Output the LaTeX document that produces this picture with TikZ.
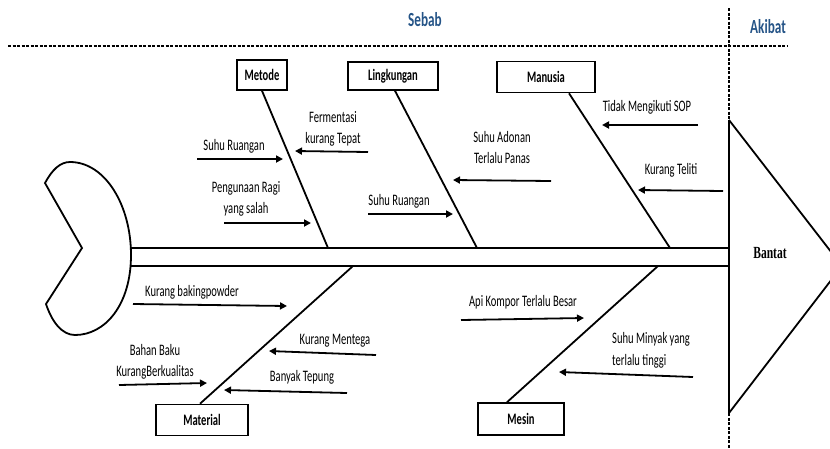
\documentclass[tikz,border=0pt]{standalone}
\usepackage{fontspec}
\newfontfamily\lblfont{Carlito}[FakeStretch=0.66]
\newfontfamily\serffont{Liberation Serif}[FakeStretch=0.68]
\usetikzlibrary{arrows.meta}
\definecolor{hdrblue}{RGB}{37,84,135}
\begin{document}
\begin{tikzpicture}[x=1pt,y=-1pt,
  lbl/.style={font=\lblfont\fontsize{16}{21.5}\selectfont, inner sep=0pt, align=center},
  catbox/.style={draw, line width=1.6pt, font=\lblfont\bfseries\fontsize{16}{18}\selectfont, inner sep=0pt},
  bone/.style={line width=1.8pt},
  cause/.style={line width=1.8pt, -{Triangle[length=7pt,width=7pt]}},
  sepline/.style={line width=1.4pt, dash pattern=on 3pt off 1.5pt},
  hdr/.style={font=\lblfont\bfseries\fontsize{20}{22}\selectfont, text=hdrblue, inner sep=0pt}
]
\useasboundingbox (0,0) rectangle (830,448);
\clip (0,0) rectangle (830,448);

% headers and separators
\node[hdr] (sebab) at (425,20) {Sebab};
\node[hdr] (akibat) at (768,27) {Akibat};
\draw[sepline] (8,46) -- (787,46);

% head (effect)
\draw[line width=1.8pt] (729,120) -- (842,266) -- (729,413);
\draw[line width=2pt] (729,120) -- (729,413);
\draw[sepline] (729,8) -- (729,448);
\node[font=\serffont\bfseries\fontsize{17}{20}\selectfont, inner sep=0pt] (bantat) at (770,253) {Bantat};

% tail
\draw[line width=1.8pt] (45,183) .. controls (52,170) and (60,162) .. (70,162)
  .. controls (105,162) and (131,205) .. (131,255)
  .. controls (131,305) and (105,335) .. (75,335)
  .. controls (62,335) and (52,322) .. (46,304) -- (82,248) -- cycle;

% spine
\draw[line width=2.2pt] (131,248) -- (729,248);
\draw[line width=2.2pt] (131,266) -- (729,266);

% category boxes
\node[catbox, minimum width=50pt, minimum height=30pt] (metode) at (262,75) {Metode};
\node[catbox, minimum width=90pt, minimum height=28pt] (lingk) at (393,76) {Lingkungan};
\node[catbox, minimum width=98pt, minimum height=31pt] (manusia) at (546,77) {Manusia};
\node[catbox, minimum width=92pt, minimum height=31pt] (material) at (202,420) {Material};
\node[catbox, minimum width=86pt, minimum height=32pt] (mesin) at (521,419) {Mesin};

% spine joints
\coordinate (sM) at (328,248);
\coordinate (sL) at (477,248);
\coordinate (sH) at (670,248);
\coordinate (sMat) at (353,266);
\coordinate (sMes) at (658,266);

\draw[bone] (metode.south) -- (sM);
\draw[bone] ([xshift=2pt]lingk.south) -- (sL);
\draw[bone] ([xshift=23pt]manusia.south) -- (sH);
\draw[bone] (sMat) -- ([xshift=-2pt]material.north);
\draw[bone] (sMes) -- ([xshift=-14pt]mesin.north);

% cause labels
\node[lbl] (t1) at (333,129) {Fermentasi\\kurang Tepat};
\node[lbl] (t2) at (234,146) {Suhu Ruangan};
\node[lbl] (t3) at (246,199) {Pengunaan Ragi\\yang salah};
\node[lbl] (t4) at (399,201) {Suhu Ruangan};
\node[lbl] (t5) at (502,147.5) {Suhu Adonan\\Terlalu Panas};
\node[lbl] (t6) at (647,107) {Tidak Mengikuti SOP};
\node[lbl] (t7) at (671,170) {Kurang Teliti};
\node[lbl] (t8) at (192,292) {Kurang bakingpowder};
\node[lbl] (t9) at (335,341) {Kurang Mentega};
\node[lbl] (t10) at (155,362) {Bahan Baku\\KurangBerkualitas};
\node[lbl] (t11) at (302,377) {Banyak Tepung};
\node[lbl] (t12) at (523,302) {Api Kompor Terlalu Besar};
\node[lbl, align=left, anchor=west] (t13) at (612,350.5) {Suhu Minyak yang\\terlalu tinggi};

% cause arrows
\coordinate (a1s) at (368,152);  \coordinate (a1e) at (295,151);
\coordinate (a2s) at (197,159);  \coordinate (a2e) at (283,159);
\coordinate (a3s) at (224,223);  \coordinate (a3e) at (311,223);
\coordinate (a4s) at (368,214);  \coordinate (a4e) at (453,214);
\coordinate (a5s) at (551,181);  \coordinate (a5e) at (453,180);
\coordinate (a6s) at (698,125);  \coordinate (a6e) at (602,125);
\coordinate (a7s) at (723,191);  \coordinate (a7e) at (638,190);
\coordinate (a8s) at (133,304);  \coordinate (a8e) at (287,306);
\coordinate (a9s) at (376,355);  \coordinate (a9e) at (269,351);
\coordinate (a10s) at (119,385); \coordinate (a10e) at (207,383);
\coordinate (a11s) at (347,393); \coordinate (a11e) at (224,390);
\coordinate (a12s) at (461,320); \coordinate (a12e) at (584,318);
\coordinate (a13s) at (693,377); \coordinate (a13e) at (559,372);
\foreach \i in {1,...,13}{\draw[cause] (a\i s) -- (a\i e);}
\end{tikzpicture}
\end{document}
